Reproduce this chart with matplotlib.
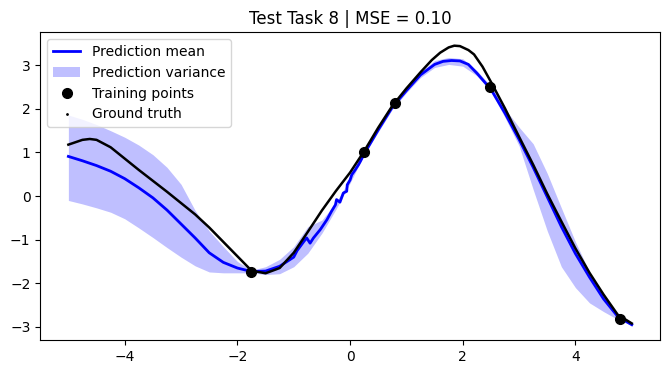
import numpy as np
import matplotlib
matplotlib.use("Agg")
import matplotlib.pyplot as plt
from matplotlib.lines import Line2D

# ground truth curve
truth_x = [-5.0, -4.75, -4.62, -4.5, -4.25, -4.0, -3.75, -3.5, -3.25, -3.0,
           -2.75, -2.5, -2.25, -2.0, -1.75, -1.5, -1.25, -1.0, -0.75, -0.5,
           -0.25, 0.0, 0.25, 0.5, 0.75, 1.0, 1.25, 1.45, 1.6, 1.75, 1.85, 1.95,
           2.1, 2.2, 2.35, 2.5, 2.75, 3.0, 3.25, 3.5, 3.75, 4.0, 4.25, 4.5,
           4.75, 5.0]
truth_y = [1.18, 1.29, 1.31, 1.29, 1.12, 0.86, 0.60, 0.35, 0.10, -0.16,
           -0.42, -0.72, -1.05, -1.38, -1.71, -1.77, -1.65, -1.30, -0.82, -0.33,
           0.12, 0.54, 1.03, 1.57, 2.07, 2.47, 2.84, 3.12, 3.29, 3.41, 3.45, 3.44,
           3.35, 3.25, 2.97, 2.62, 2.01, 1.36, 0.72, 0.05, -0.58, -1.20, -1.76, -2.26,
           -2.72, -2.92]

# training points
train_x = [-1.75, 0.24, 0.79, 2.48, 4.79]
train_y = [-1.75, 1.02, 2.14, 2.50, -2.81]

# prediction mean (wiggly between -0.9 and 0.25)
mean_x = [-5.0, -4.75, -4.5, -4.25, -4.0, -3.75, -3.5, -3.25, -3.0, -2.75,
          -2.5, -2.25, -2.0, -1.75, -1.5, -1.25, -1.0, -0.94, -0.82, -0.77,
          -0.71, -0.65, -0.53, -0.41, -0.33, -0.26, -0.24, -0.18, -0.12, -0.06,
          -0.05, 0.0, 0.03, 0.09, 0.15, 0.18, 0.26, 0.5, 0.75, 1.0,
          1.25, 1.5, 1.65, 1.8, 1.95, 2.1, 2.25, 2.5, 2.75, 3.0, 3.25, 3.5,
          3.75, 4.0, 4.25, 4.5, 4.75, 5.0]
mean_y = [0.91, 0.81, 0.70, 0.57, 0.40, 0.19, -0.04, -0.32, -0.64, -0.96,
          -1.30, -1.52, -1.65, -1.73, -1.72, -1.61, -1.40, -1.25, -1.04, -0.96,
          -1.08, -0.96, -0.77, -0.54, -0.35, -0.20, -0.08, -0.14, 0.07, 0.11,
          0.26, 0.37, 0.49, 0.60, 0.72, 0.79, 0.99, 1.52, 2.04, 2.42,
          2.78, 3.02, 3.09, 3.11, 3.10, 3.02, 2.82, 2.45, 1.90, 1.30, 0.66, -0.02,
          -0.70, -1.32, -1.86, -2.36, -2.76, -2.95]

# variance band
band_x = [-5.0, -4.75, -4.5, -4.25, -4.0, -3.75, -3.5, -3.25, -3.0, -2.75,
          -2.5, -2.25, -2.0, -1.75, -1.5, -1.25, -1.0, -0.75, -0.5, -0.25,
          0.0, 0.25, 0.5, 0.75, 1.0, 1.25, 1.5, 1.75, 2.0, 2.25,
          2.5, 2.75, 3.0, 3.25, 3.5, 3.75, 4.0, 4.25, 4.5, 4.75, 5.0]
band_lo = [-0.10, -0.18, -0.27, -0.37, -0.52, -0.73, -0.95, -1.18, -1.40, -1.60,
           -1.74, -1.76, -1.76, -1.76, -1.80, -1.78, -1.62, -1.31, -0.85, -0.30,
           0.30, 0.95, 1.47, 1.99, 2.37, 2.72, 2.95, 3.02, 2.98, 2.76,
           2.40, 1.80, 1.15, 0.15, -0.80, -1.62, -2.10, -2.45, -2.65, -2.83, -2.97]
band_hi = [1.86, 1.76, 1.64, 1.50, 1.35, 1.17, 0.95, 0.66, 0.27, -0.33,
           -0.80, -1.16, -1.50, -1.70, -1.62, -1.45, -1.16, -0.70, -0.55, -0.15,
           0.40, 1.03, 1.57, 2.09, 2.47, 2.84, 3.11, 3.18, 3.15, 2.88,
           2.52, 2.00, 1.58, 1.20, 0.52, -0.27, -1.05, -1.74, -2.28, -2.72, -2.92]

fig = plt.figure(figsize=(6.7, 3.74), dpi=100)
ax = fig.add_axes([0.060, 0.091, 0.925, 0.823])

ax.fill_between(band_x, band_lo, band_hi, color='blue', alpha=0.25, lw=0)
ax.plot(mean_x, mean_y, color='blue', lw=2)
ax.plot(truth_x, truth_y, color='black', lw=1.8)
ax.plot(train_x, train_y, 'ko', markersize=7)

handles = [
    Line2D([], [], color='blue', lw=2),
    plt.Rectangle((0, 0), 1, 1, color='blue', alpha=0.25, lw=0),
    Line2D([], [], color='black', marker='o', ls='', markersize=7),
    Line2D([], [], color='black', marker='.', ls='', markersize=2),
]
labels = ['Prediction mean', 'Prediction variance', 'Training points', 'Ground truth']
ax.legend(handles, labels, loc='upper left')

ax.set_title('Test Task 8 | MSE = 0.10')
ax.set_xlim(-5.5, 5.5)
ax.set_ylim(-3.30, 3.76)

fig.savefig('out.png', dpi=100)
